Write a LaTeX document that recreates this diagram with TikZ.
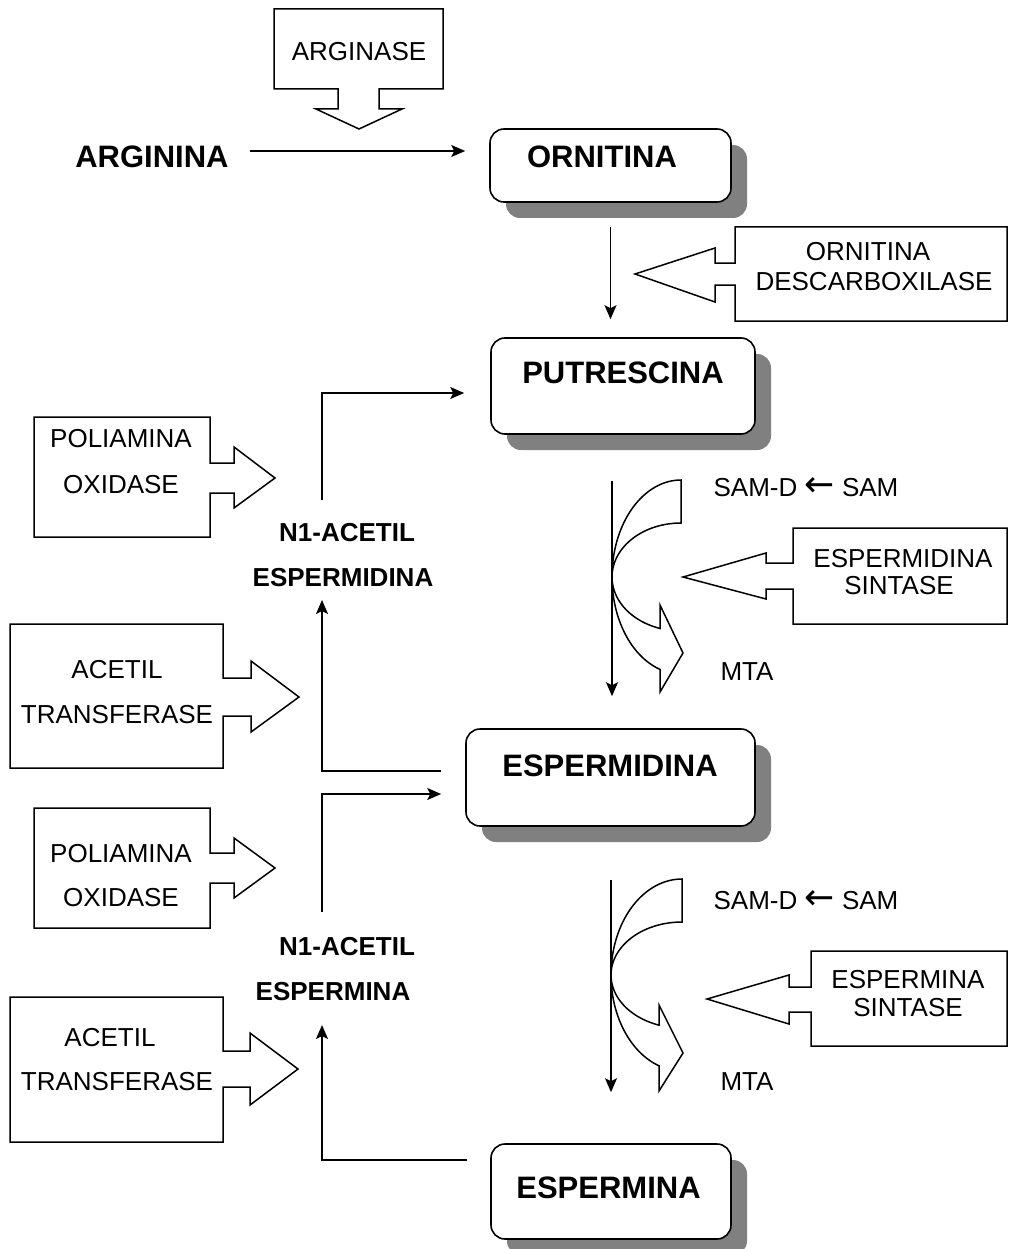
\documentclass[tikz,border=0pt]{standalone}
\usepackage{fontspec}
\setmainfont{Liberation Sans}
\newfontfamily\arrowfont{DejaVu Sans}
\usetikzlibrary{arrows.meta,shadows,calc}
\definecolor{shadowgray}{RGB}{128,128,128}
\newcommand{\leftarr}{{\arrowfont\fontsize{36}{36}\selectfont ←}}
\tikzset{
  mainbox/.style={draw, line width=1.6pt, rounded corners=14pt, fill=white,
    drop shadow={shadow xshift=16pt, shadow yshift=-16pt, fill=shadowgray, opacity=1},
    inner sep=0pt},
  enz/.style={draw, line width=1.5pt, fill=white, line join=miter},
  arr/.style={line width=1.6pt, -{Stealth[length=14pt,width=12pt,inset=3pt]}},
  big/.style={font=\fontsize{31}{37}\selectfont\bfseries, inner sep=0pt},
  mid/.style={font=\fontsize{26}{31}\selectfont\bfseries, inner sep=0pt},
  txt/.style={font=\fontsize{26}{31}\selectfont, inner sep=0pt},
}
\begin{document}
\begin{tikzpicture}[x=1pt,y=-1pt]
\useasboundingbox (0,0) rectangle (1009,1249);

% ---------- main boxes ----------
\node[mainbox, minimum width=241pt, minimum height=73pt] (orn) at (610.5,165.5) {};
\node[big] (ornT) at (602,157) {ORNITINA};
\node[mainbox, minimum width=264pt, minimum height=96pt] (put) at (623,386) {};
\node[big] (putT) at (623,373) {PUTRESCINA};
\node[mainbox, minimum width=289pt, minimum height=97pt] (esd) at (610.5,777.5) {};
\node[big] (esdT) at (610,766) {ESPERMIDINA};
\node[mainbox, minimum width=240pt, minimum height=95pt] (esp) at (611,1191.5) {};
\node[big] (espT) at (608.5,1188) {ESPERMINA};

\node[big] (arg) at (152,157) {ARGININA};

\node[mid] (n1sdA) at (347,533) {N1-ACETIL};
\node[mid] (n1sdB) at (343,578) {ESPERMIDINA};
\node[mid] (n1spA) at (347,947) {N1-ACETIL};
\node[mid] (n1spB) at (333,992) {ESPERMINA};

% ---------- enzyme block arrows ----------
\draw[enz] (274,9) -- (443,9) -- (443,89) -- (379,89) -- (379,109) -- (402,109) -- (359,129)
  -- (316,109) -- (338,109) -- (338,89) -- (274,89) -- cycle;
\node[txt] (argnase) at (359,52) {ARGINASE};

\draw[enz] (1007,227) -- (735,227) -- (735,263) -- (715,263) -- (715,248) -- (635,274)
  -- (715,302) -- (715,285) -- (735,285) -- (735,321) -- (1007,321) -- cycle;
\node[txt] (odcA) at (868,252) {ORNITINA};
\node[txt] (odcB) at (874,282) {DESCARBOXILASE};

\draw[enz] (34,417) -- (210,417) -- (210,463) -- (234,463) -- (234,447) -- (275,478)
  -- (234,508) -- (234,493) -- (210,493) -- (210,537) -- (34,537) -- cycle;
\node[txt] (pao1A) at (121,439) {POLIAMINA};
\node[txt] (pao1B) at (121,485) {OXIDASE};

\draw[enz] (10,624) -- (223,624) -- (223,678) -- (251,678) -- (251,661) -- (299,697)
  -- (251,732) -- (251,716) -- (223,716) -- (223,768) -- (10,768) -- cycle;
\node[txt] (at1A) at (117,670) {ACETIL};
\node[txt] (at1B) at (117,715) {TRANSFERASE};

\draw[enz] (34,808) -- (210,808) -- (210,853) -- (234,853) -- (234,838) -- (275,868)
  -- (234,898) -- (234,883) -- (210,883) -- (210,928) -- (34,928) -- cycle;
\node[txt] (pao2A) at (121,854) {POLIAMINA};
\node[txt] (pao2B) at (121,898) {OXIDASE};

\draw[enz] (10,997) -- (223,997) -- (223,1051) -- (250,1051) -- (250,1033) -- (298,1069)
  -- (250,1105) -- (250,1087) -- (223,1087) -- (223,1142) -- (10,1142) -- cycle;
\node[txt] (at2A) at (110,1038) {ACETIL};
\node[txt] (at2B) at (117,1082) {TRANSFERASE};

\draw[enz] (1007,528) -- (793,528) -- (793,563) -- (766,563) -- (766,553) -- (683,577)
  -- (766,599) -- (766,589) -- (793,589) -- (793,624) -- (1007,624) -- cycle;
\node[txt] (sdsA) at (903,559) {ESPERMIDINA};
\node[txt] (sdsB) at (899,586) {SINTASE};

\draw[enz] (1007,951) -- (811,951) -- (811,987) -- (789,987) -- (789,975) -- (707,999)
  -- (789,1024) -- (789,1012) -- (811,1012) -- (811,1046) -- (1007,1046) -- cycle;
\node[txt] (spsA) at (908,980) {ESPERMINA};
\node[txt] (spsB) at (908,1008) {SINTASE};

% ---------- curved arrows ----------
\draw[enz] plot[domain=0:162.3, samples=60, smooth] ({681+69*cos(270-\x)},{577+97*sin(270-\x)})
  -- (660,692) -- (683,653) -- (660,605)
  -- plot[domain=0:162.3, samples=60, smooth] ({681+69*cos(107.7+\x)},{577+54*sin(107.7+\x)})
  -- cycle;
\draw[enz] plot[domain=0:161.1, samples=60, smooth] ({682+71*cos(270-\x)},{975+96*sin(270-\x)})
  -- (659,1091) -- (683,1053) -- (659,1005)
  -- plot[domain=0:161.1, samples=60, smooth] ({682+71*cos(108.9+\x)},{975+53*sin(108.9+\x)})
  -- cycle;

\node[txt] (sam1) at (806,487) {SAM-D \leftarr{} SAM};
\node[txt] (mta1) at (747,672) {MTA};
\node[txt] (sam2) at (806,900) {SAM-D \leftarr{} SAM};
\node[txt] (mta2) at (747,1082) {MTA};

% ---------- connectors ----------
\draw[arr] ($(arg.east)+(21,-6)$) -- ($(orn.west)+(-24,-14.5)$);
\draw[arr] ($(orn.south)+(0,24)$) -- ($(orn.south |- put.north)+(0,-18)$);
\draw[arr] ($(put.south)+(-11,46)$) -- ($(esd.north)+(1.5,-32)$);
\draw[arr] ($(esd.south)+(0.5,53)$) -- ($(esp.north)+(0,-51)$);

\draw[arr] ($(n1sdA.center)+(-25,-33)$) |- ($(put.west)+(-26,7)$);
\draw[arr] ($(esd.west)+(-24,-6.5)$) -| ($(n1sdB.center)+(-21,22)$);
\draw[arr] ($(n1spA.center)+(-25,-35)$) |- ($(esd.west)+(-24,16.5)$);
\draw[arr] ($(esp.west)+(-23,-31.5)$) -| ($(n1spB.center)+(-11,33)$);
\end{tikzpicture}
\end{document}
